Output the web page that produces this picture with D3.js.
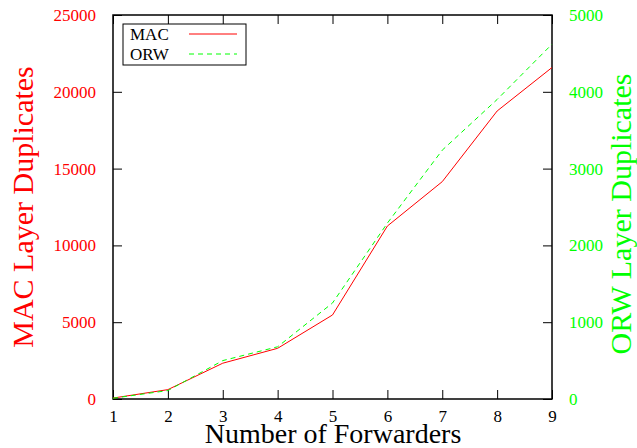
<!DOCTYPE html>
<html><head><meta charset="utf-8">
<script src="https://cdn.jsdelivr.net/npm/d3@7"></script>
<style>body{margin:0;background:#fff}svg{display:block}</style>
</head><body>
<script>
const forwarders = [1,2,3,4,5,6,7,8,9];
const macDup = [60,610,2330,3300,5470,11260,14150,18750,21580];
const orwDup = [10,110,500,680,1250,2290,3240,3900,4620];
const xTicks = [1,2,3,4,5,6,7,8,9];
const yLeftTicks = [0,5000,10000,15000,20000,25000];
const yRightTicks = [0,1000,2000,3000,4000,5000];

(function(){
const W=637,H=448;
const m={l:113,r:552,t:15,b:399};
const font="'Liberation Serif','DejaVu Serif',serif";
const svg=d3.select("body").append("svg").attr("width",W).attr("height",H);
const x=d3.scaleLinear().domain([1,9]).range([m.l,m.r]);
const yL=d3.scaleLinear().domain([0,25000]).range([m.b,m.t]);
const yR=d3.scaleLinear().domain([0,5000]).range([m.b,m.t]);
const tl=9;

const gBottom=svg.append("g").attr("transform",`translate(0,${m.b})`)
  .call(d3.axisBottom(x).tickValues(xTicks).tickSize(-tl).tickPadding(11).tickFormat(d3.format("d")));
const gTop=svg.append("g").attr("transform",`translate(0,${m.t})`)
  .call(d3.axisTop(x).tickValues(xTicks).tickSize(-tl).tickFormat(""));
const gLeft=svg.append("g").attr("transform",`translate(${m.l},0)`)
  .call(d3.axisLeft(yL).tickValues(yLeftTicks).tickSize(-tl).tickPadding(17).tickFormat(d3.format("d")));
const gRight=svg.append("g").attr("transform",`translate(${m.r},0)`)
  .call(d3.axisRight(yR).tickValues(yRightTicks).tickSize(-tl).tickPadding(17).tickFormat(d3.format("d")));
[gBottom,gTop,gLeft,gRight].forEach(g=>{
  g.select(".domain").remove();
  g.selectAll(".tick line").attr("stroke","#000").attr("stroke-width",1);
  g.selectAll(".tick text").attr("font-family",font).attr("font-size",17);
});
gBottom.selectAll(".tick text").attr("fill","#000");
gLeft.selectAll(".tick text").attr("fill","#ff0000");
gRight.selectAll(".tick text").attr("fill","#00ff00");

svg.append("rect").attr("x",m.l).attr("y",m.t).attr("width",m.r-m.l).attr("height",m.b-m.t)
  .attr("fill","none").attr("stroke","#000").attr("stroke-width",1.5);

svg.append("path").datum(forwarders.map((f,i)=>[f,macDup[i]]))
  .attr("d",d3.line().x(d=>x(d[0])).y(d=>yL(d[1])))
  .attr("fill","none").attr("stroke","#ff0000").attr("stroke-width",1);
svg.append("path").datum(forwarders.map((f,i)=>[f,orwDup[i]]))
  .attr("d",d3.line().x(d=>x(d[0])).y(d=>yR(d[1])))
  .attr("fill","none").attr("stroke","#00ff00").attr("stroke-width",1).attr("stroke-dasharray","5,4");

const lg=svg.append("g");
lg.append("rect").attr("x",123).attr("y",24).attr("width",123).attr("height",41)
  .attr("fill","#fff").attr("stroke","#000").attr("stroke-width",1);
lg.append("text").attr("x",130).attr("y",40).text("MAC").attr("font-family",font).attr("font-size",17).attr("fill","#000");
lg.append("text").attr("x",130).attr("y",60).text("ORW").attr("font-family",font).attr("font-size",17).attr("fill","#000");
lg.append("line").attr("x1",189).attr("x2",237).attr("y1",34).attr("y2",34).attr("stroke","#ff0000").attr("stroke-width",1);
lg.append("line").attr("x1",189).attr("x2",237).attr("y1",54).attr("y2",54).attr("stroke","#00ff00").attr("stroke-width",1).attr("stroke-dasharray","5,4");

svg.append("text").attr("transform","translate(33,207) rotate(-90)").attr("text-anchor","middle")
  .attr("font-family",font).attr("font-size",30).attr("fill","#ff0000").text("MAC Layer Duplicates");
svg.append("text").attr("transform","translate(631,214) rotate(-90)").attr("text-anchor","middle")
  .attr("font-family",font).attr("font-size",30).attr("fill","#00ff00").text("ORW Layer Duplicates");
svg.append("text").attr("x",333).attr("y",443).attr("text-anchor","middle")
  .attr("font-family",font).attr("font-size",28).attr("fill","#000").text("Number of Forwarders");
})();
</script>
</body></html>
